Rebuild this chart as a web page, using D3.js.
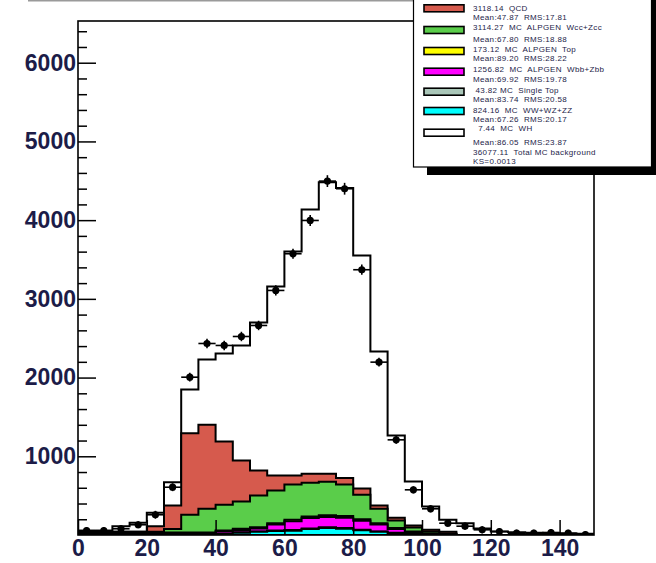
<!DOCTYPE html>
<html><head><meta charset="utf-8">
<script src="https://cdn.jsdelivr.net/npm/d3@7"></script>
<style>body{margin:0;background:#fff}svg{display:block}</style>
</head><body><svg id="c" width="656" height="563"></svg>
<script>
// ---- data (bin lower edges, width 5) ----
const binLow = [0,5,10,15,20,25,30,35,40,45,50,55,60,65,70,75,80,85,90,95,100,105,110,115,120,125,130,135,140,145];
const binWidth = 5;
// stacked MC components, bottom to top
const wwWzZz   = [8,8,8,8,8,8,8,8,10,30,40,50,55,75,90,80,60,40,25,10,5,0,0,0,0,0,0,0,0,0];
const singleTop= [8,8,8,8,8,8,8,8,5,5,5,6,7,7,8,8,7,6,5,4,3,2,0,0,0,0,0,0,0,0];
const wbbZbb   = [8,8,8,8,8,8,8,8,30,29,39,76,113,133,132,132,113,86,45,21,7,3,0,0,0,0,0,0,0,0];
const topPair  = [8,8,8,8,8,8,8,8,12,15,15,18,20,20,20,20,20,18,15,10,5,3,0,0,0,0,0,0,0,0];
const wccZcc   = [8,8,8,8,8,45,225,301,327,347,403,415,447,428,425,400,310,183,94,50,24,10,0,0,0,0,0,0,0,0];
const qcd      = [0,0,0,0,72,298,1037,1067,804,521,318,191,114,115,103,85,80,42,36,26,22,22,0,0,0,0,0,0,0,0];
const wLight   = [15,15,72,115,170,296,555,830,1118,1461,1880,2401,2846,3358,3705,3682,2961,1957,1044,559,296,153,150,82,45,35,30,25,20,15];
// observed data
const dataVals = [57,57,79,130,257,607,2005,2433,2408,2522,2662,3107,3573,3996,4496,4399,3370,2196,1209,574,333,150,112,66,44,23,23,32,23,6];
const dataErr  = [45,45,45,45,50,50,55,60,60,60,60,65,65,70,75,75,65,55,50,45,45,45,45,45,45,45,45,45,45,45];
// axis ticks
const xTickVals = [0,20,40,60,80,100,120,140];
const yTickVals = [1000,2000,3000,4000,5000,6000];
// legend
const legendColors = ["#d65a4d","#5acd4a","#ffff00","#ff00ff","#a9c6b8","#00ffff","#ffffff"];
const legendTitles = ["3118.14  QCD","3114.27  MC  ALPGEN  Wcc+Zcc","173.12  MC  ALPGEN  Top","1256.82  MC  ALPGEN  Wbb+Zbb"," 43.82 MC  Single Top","824.16  MC  WW+WZ+ZZ","  7.44  MC  WH"];
const legendStats  = ["Mean:47.87  RMS:17.81","Mean:67.80  RMS:18.88","Mean:89.20  RMS:28.22","Mean:69.92  RMS:19.78","Mean:83.74  RMS:20.58","Mean:67.26  RMS:20.17","Mean:86.05  RMS:23.87"];
const legendTotal  = ["36077.11  Total MC background","KS=0.0013"];

const stackKeys = ["ww","st","wbb","top","wcc","qcd","wlf"];
const stackSeries = {ww:wwWzZz, st:singleTop, wbb:wbbZbb, top:topPair, wcc:wccZcc, qcd:qcd, wlf:wLight};
const stackColors = {ww:"#00ffff", st:"#a9c6b8", wbb:"#ff00ff", top:"#ffff00", wcc:"#5acd4a", qcd:"#d65a4d", wlf:"#ffffff"};

// ---- drawing ----
const svg = d3.select("#c");
const L=78, T=21, R=594, B=535;
const x = d3.scaleLinear().domain([0,150]).range([L,R]);
const y = d3.scaleLinear().domain([0,6530]).range([B,T]);
const textColor = "#1c1c48";

svg.append("line").attr("x1",28).attr("x2",413).attr("y1",0.7).attr("y2",0.7)
  .attr("stroke","#9a9a9a").attr("stroke-width",1.5);

svg.append("clipPath").attr("id","clip").append("rect")
  .attr("x",L).attr("y",T).attr("width",R-L).attr("height",B-T);
const plot = svg.append("g").attr("clip-path","url(#clip)");

const rows = binLow.map((b,i)=>{const r={b}; stackKeys.forEach(k=>r[k]=stackSeries[k][i]); return r;});
const stacked = d3.stack().keys(stackKeys)(rows);
const area = d3.area().curve(d3.curveStepAfter)
  .x(p=>x(p[0])).y0(y(0)).y1(p=>y(p[1]));
for (let s = stacked.length-1; s>=0; s--) {
  const ser = stacked[s];
  const pts = ser.map(d=>[d.data.b, d[1]]);
  pts.push([binLow[binLow.length-1]+binWidth, ser[ser.length-1][1]]);
  plot.append("path").attr("d", area(pts))
    .attr("fill", stackColors[ser.key]).attr("stroke","#000")
    .attr("stroke-width",2).attr("stroke-linejoin","miter");
}

// data points
const pg = plot.append("g");
binLow.forEach((b,i)=>{
  const v = dataVals[i], e = dataErr[i];
  pg.append("line").attr("x1",x(b)).attr("x2",x(b+binWidth)).attr("y1",y(v)).attr("y2",y(v))
    .attr("stroke","#000").attr("stroke-width",1.6);
  pg.append("line").attr("x1",x(b+binWidth/2)).attr("x2",x(b+binWidth/2)).attr("y1",y(v-e)).attr("y2",y(v+e))
    .attr("stroke","#000").attr("stroke-width",1.6);
  pg.append("circle").attr("cx",x(b+binWidth/2)).attr("cy",y(v)).attr("r",3.6).attr("fill","#000");
});

// y axis (ticks inside)
const yMinor = d3.range(200,6530,200).filter(v=>v%1000!==0);
svg.append("g").attr("transform",`translate(${L},0)`)
  .call(d3.axisLeft(y).tickValues(yMinor).tickSizeInner(-9).tickSizeOuter(0).tickFormat(""))
  .call(g=>{g.select(".domain").remove(); g.selectAll("line").attr("stroke","#000").attr("stroke-width",1.5);});
svg.append("g").attr("transform",`translate(${L},0)`)
  .call(d3.axisLeft(y).tickValues(yTickVals).tickSizeInner(-18).tickSizeOuter(0).tickPadding(2).tickFormat(d3.format("d")))
  .call(g=>{g.select(".domain").remove(); g.selectAll("line").attr("stroke","#000").attr("stroke-width",1.5);
    g.selectAll("text").attr("fill",textColor).style("font-family","'Liberation Sans',Arial,sans-serif")
     .style("font-size","23px").style("font-weight","bold");});

// x axis
svg.append("g").attr("transform",`translate(0,${B})`)
  .call(d3.axisBottom(x).tickValues(xTickVals).tickSizeInner(-15).tickSizeOuter(0).tickPadding(5).tickFormat(d3.format("d")))
  .call(g=>{g.select(".domain").remove(); g.selectAll("line").attr("stroke","#000").attr("stroke-width",1.5);
    g.selectAll("text").attr("fill",textColor).style("font-family","'Liberation Sans',Arial,sans-serif")
     .style("font-size","23px").style("font-weight","bold");});

// frame
svg.append("rect").attr("x",L).attr("y",T).attr("width",R-L).attr("height",B-T)
  .attr("fill","none").attr("stroke","#000").attr("stroke-width",1.6);

// legend
const lg = svg.append("g");
lg.append("rect").attr("x",427).attr("y",-5).attr("width",240).attr("height",180).attr("fill","#000");
lg.append("rect").attr("x",413.5).attr("y",-3).attr("width",238).attr("height",170).attr("fill","#fff")
  .attr("stroke","#000").attr("stroke-width",1.2);
const swY = [8.3,30,51,71.7,91.7,111,132.7];
const titleY = [8,27,49.3,69,90,110,128.8];
const statY = [17.5,39,58.5,79,99.3,119.3,142.7];
legendColors.forEach((c,i)=>{
  lg.append("rect").attr("x",424).attr("y",swY[i]-3.5).attr("width",40).attr("height",7)
    .attr("fill",c).attr("stroke","#000").attr("stroke-width",1.6);
});
const lt = (t,yy)=>lg.append("text").attr("x",473).attr("y",yy).attr("dominant-baseline","central")
  .attr("xml:space","preserve").style("white-space","pre").style("letter-spacing","0.35px")
  .attr("fill",textColor).style("font-family","'Liberation Sans',Arial,sans-serif").style("font-size","8px").text(t);
legendTitles.forEach((t,i)=>lt(t,titleY[i]));
legendStats.forEach((t,i)=>lt(t,statY[i]));
lt(legendTotal[0],152.7); lt(legendTotal[1],161.5);
</script></body></html>
